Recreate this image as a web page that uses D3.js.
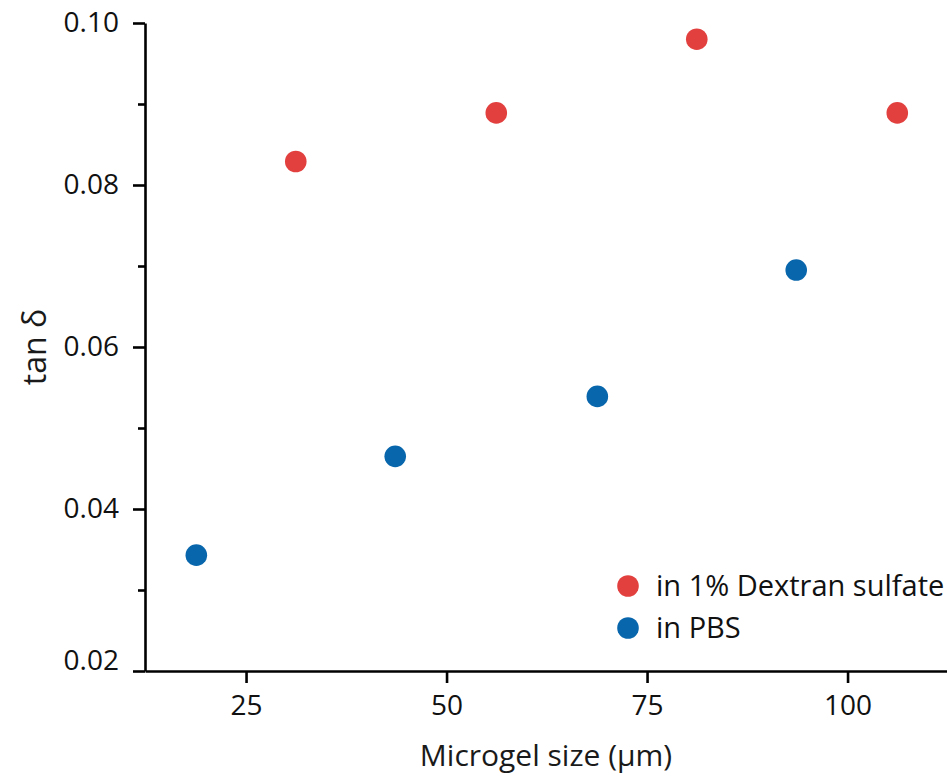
<!DOCTYPE html>
<html>
<head>
    <meta charset="utf-8">
    <title>tan delta vs microgel size</title>
    <script src="https://d3js.org/d3.v7.min.js"></script>
    <style>
        body {
            margin: 0;
            background: #fff;
            font-family: "Open Sans", "Noto Sans", sans-serif;
        }
        .axis path, .axis line {
            stroke: #000;
            stroke-width: 2.6px;
        }
        .axis text {
            font-family: "Open Sans", "Noto Sans", sans-serif;
            font-size: 28px;
            fill: #111;
        }
    </style>
</head>
<body>
<script>
    // series
    const dextranSize = [31.2, 56.2, 81.2, 106.2];
    const dextranTan = [0.0829, 0.0889, 0.0980, 0.0889];
    const pbsSize = [18.8, 43.6, 68.8, 93.6];
    const pbsTan = [0.0343, 0.0465, 0.0539, 0.0695];

    const xTicks = [25, 50, 75, 100];
    const yTicks = [0.02, 0.04, 0.06, 0.08, 0.10];
    const yMinor = [0.03, 0.05, 0.07, 0.09];

    const seriesNames = ["in 1% Dextran sulfate", "in PBS"];
    const seriesColors = ["#e2403f", "#0866ac"];

    const width = 947;
    const height = 778;

    const svg = d3.select('body')
        .append('svg')
        .attr('width', width)
        .attr('height', height)

    const x = d3.scaleLinear()
        .domain([12.4, 112.4])
        .range([145, 947])
    const y = d3.scaleLinear()
        .domain([0.02, 0.10])
        .range([671, 23])

    // minor y ticks
    svg.append('g')
        .attr('class', 'axis')
        .attr('transform', 'translate(145,0)')
        .call(d3.axisLeft(y).tickValues(yMinor).tickSize(7).tickFormat(''))
        .call(g => g.select('.domain').remove())

    svg.append('g')
        .attr('class', 'axis')
        .attr('transform', 'translate(145,0)')
        .call(d3.axisLeft(y).tickValues(yTicks).tickSize(12).tickSizeOuter(0)
            .tickPadding(14).tickFormat(d3.format('.2f')))
        // the bottom label sits a little higher in the original
        .call(g => g.selectAll('.tick text').filter(d => d === 0.02).attr('dy', '-0.05em'))

    svg.append('g')
        .attr('class', 'axis')
        .attr('transform', 'translate(0,671)')
        .call(d3.axisBottom(x).tickValues(xTicks).tickSize(12).tickSizeOuter(0)
            .tickPadding(12).tickFormat(d3.format('d')))

    svg.append('text')
        .attr('transform', 'translate(46,347) rotate(-90)')
        .attr('text-anchor', 'middle')
        .style('font-size', '32px')
        .attr('fill', '#1a1a1a')
        .text('tan δ')

    svg.append('text')
        .attr('x', 546)
        .attr('y', 766)
        .attr('text-anchor', 'middle')
        .style('font-size', '30px')
        .attr('fill', '#1a1a1a')
        .text('Microgel size (μm)')

    const series = [
        { size: dextranSize, tan: dextranTan },
        { size: pbsSize, tan: pbsTan }
    ]
    series.forEach((s, i) => {
        svg.append('g')
            .selectAll('circle')
            .data(s.size)
            .enter()
            .append('circle')
            .attr('cx', d => x(d))
            .attr('cy', (d, j) => y(s.tan[j]))
            .attr('r', 10.8)
            .attr('fill', seriesColors[i])
    })

    const legend = svg.append('g')
        .attr('transform', 'translate(628,586)')
    legend.selectAll('circle')
        .data(seriesNames)
        .enter()
        .append('circle')
        .attr('cx', 0)
        .attr('cy', (d, i) => i * 42)
        .attr('r', 10.8)
        .attr('fill', (d, i) => seriesColors[i])
    legend.selectAll('text')
        .data(seriesNames)
        .enter()
        .append('text')
        .attr('x', 28)
        .attr('y', (d, i) => i * 42)
        .attr('dy', '0.35em')
        .style('font-size', '29px')
        .attr('fill', '#111')
        .text(d => d)
</script>
</body>
</html>
